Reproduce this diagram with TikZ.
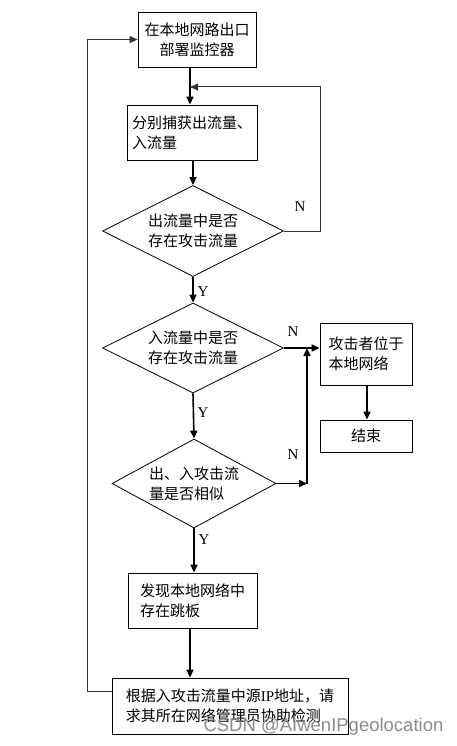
\documentclass[tikz,border=0pt]{standalone}
\usepackage{fontspec}
\setmainfont{Liberation Serif}
\newfontfamily\cjk{Noto Sans CJK SC}
\newfontfamily\wmfont{Liberation Sans}
\usetikzlibrary{shapes.geometric,arrows.meta}
\begin{document}
\begin{tikzpicture}[x=1pt,y=-1pt,
  txt/.style={font=\cjk\fontsize{15}{20}\selectfont},
  box/.style={txt,draw=black,line width=0.8pt,rectangle,inner sep=0pt,align=left},
  dia/.style={txt,draw=black,line width=0.8pt,diamond,aspect=2,inner sep=0pt,align=left},
  arr/.style={line width=1.6pt,-{Triangle[length=8pt,width=7pt]}},
  looparr/.style={line width=1pt,draw=black!80,-{Triangle[length=8pt,width=7pt]}},
  lab/.style={font=\fontsize{15}{18}\selectfont}]
\useasboundingbox (0,0) rectangle (457,746);
\fill[white] (0,0) rectangle (457,746);

% nodes
\node[box,align=center,minimum width=118pt,minimum height=55pt] (b1) at (197,39.5) {在本地网路出口\\部署监控器};
\node[box,minimum width=130pt,minimum height=55pt] (b2) at (192,132.5) {分别捕获出流量、\\入流量};
\node[dia,minimum width=181pt,minimum height=91pt] (d1) at (193,231) {出流量中是否\\存在攻击流量};
\node[dia,minimum width=181pt,minimum height=90pt] (d2) at (193,348) {入流量中是否\\存在攻击流量};
\node[dia,minimum width=164pt,minimum height=89pt] (d3) at (194,483.5) {出、入攻击流\\量是否相似};
\node[box,minimum width=92pt,minimum height=62pt] (b3) at (366,354) {攻击者位于\\本地网络};
\node[box,align=center,minimum width=92pt,minimum height=32pt] (b4) at (366,436) {结束};
\node[box,minimum width=129pt,minimum height=55pt] (b5) at (192.5,600.5) {发现本地网络中\\存在跳板};
\node[box,minimum width=236pt,minimum height=56pt] (b6) at (230,706) {根据入攻击流量中源{\rmfamily IP}地址，请\\求其所在网络管理员协助检测};

% helper coordinates
\coordinate (cx) at (190,0);
\coordinate (r1) at (320,87);
\coordinate (v2) at (307,348);
\coordinate (v3) at (307,483.5);
\coordinate (l1) at (87,691);
\coordinate (l2) at (87,39.5);
\coordinate (bx) at (367,0);

% connectors
\draw[arr] (b1.south -| cx) -- (b2.north -| cx);
\draw[arr] (b2.south -| d1.north) -- (d1.north);
\draw[looparr] (d1.east) -| (r1) -- (r1 -| cx);
\draw[arr] (d1.south) -- (d2.north);
\draw[arr] (d2.east) -- (b3.west |- d2.east);
\draw[arr] (d2.south) -- (d3.north);
\draw[arr] (d3.east) -- (v3);
\draw[arr] (v3) -- (v2);
\draw[arr] (b3.south -| bx) -- (b4.north -| bx);
\draw[arr] (d3.south) -- (b5.north -| d3.south);
\draw[arr] (b5.south -| cx) -- (b6.north -| cx);
\draw[looparr] (b6.west |- l1) -- (l1) -- (l2) -- (b1.west);

% labels
\node[lab] (n1) at (300,207) {N};
\node[lab] (y1) at (203,292) {Y};
\node[lab] (n2) at (293,332) {N};
\node[lab] (y2) at (203,413) {Y};
\node[lab] (n3) at (293,455) {N};
\node[lab] (y3) at (204,540) {Y};

% watermark
\node[anchor=west,text=black!45,font=\wmfont\fontsize{18.5}{20}\selectfont] (wm) at (200,727) {CSDN @AIwenIPgeolocation};
\end{tikzpicture}
\end{document}
